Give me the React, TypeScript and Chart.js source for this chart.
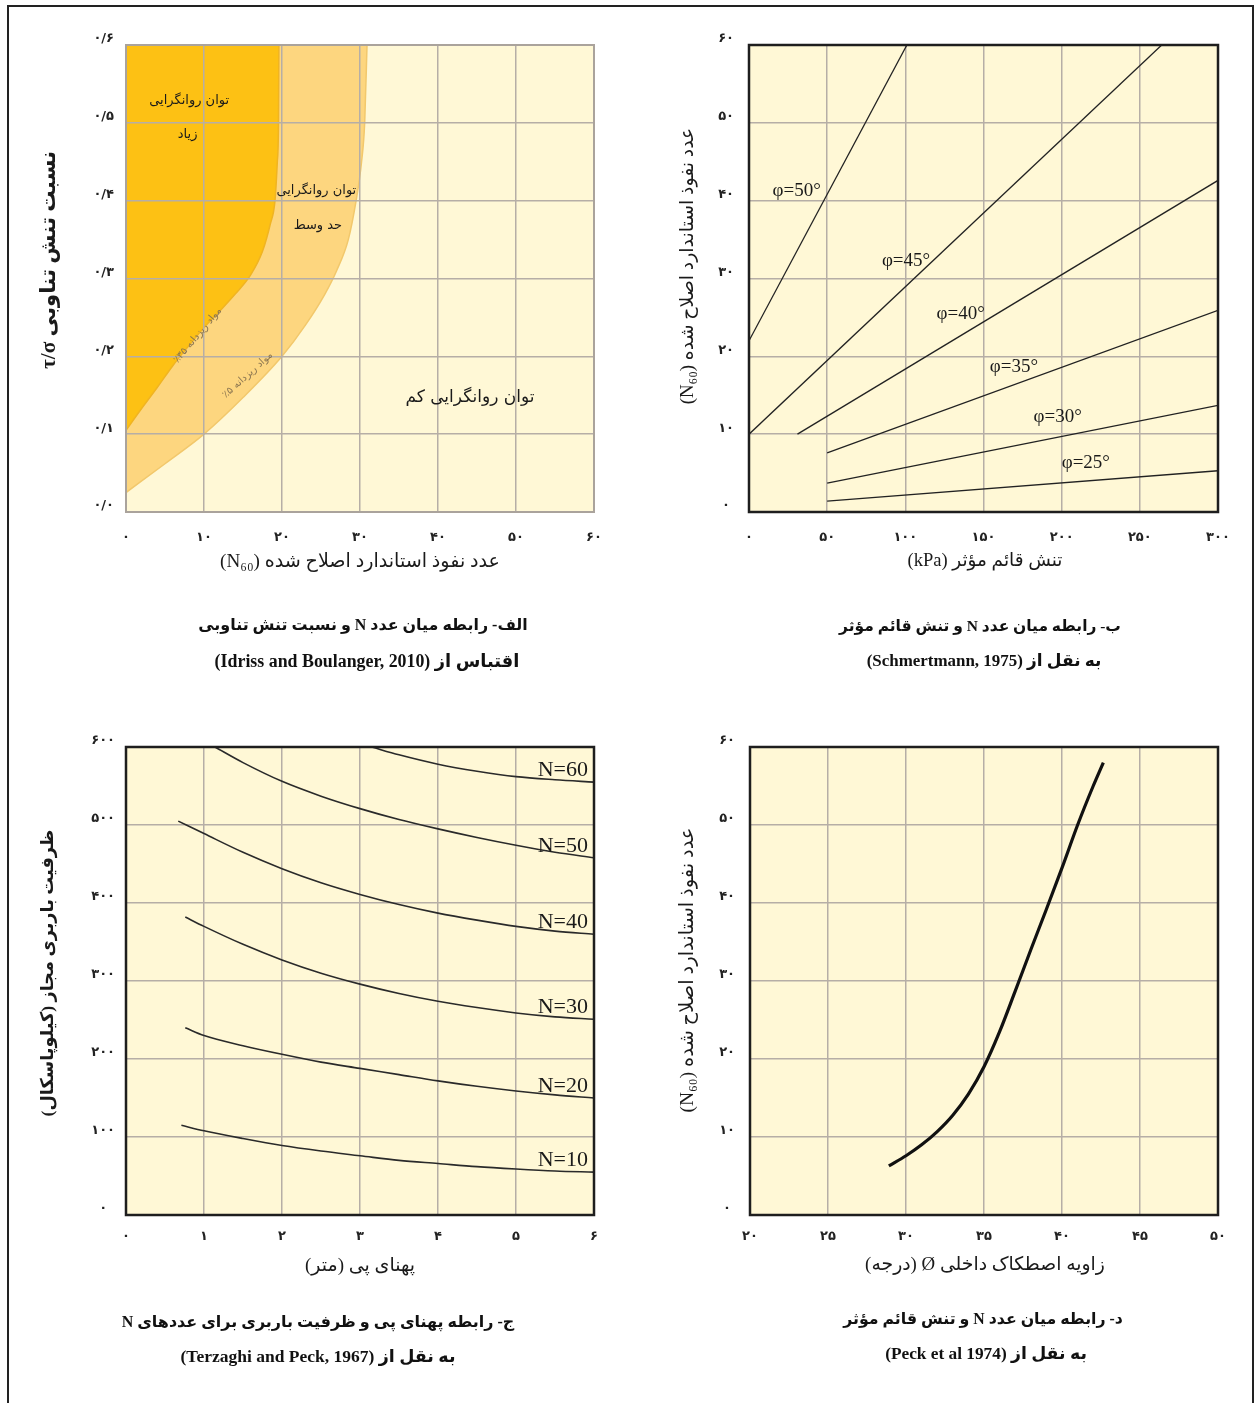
import React, { useEffect, useRef } from "react";
import { Chart, registerables } from "chart.js";

Chart.register(...registerables);

// ---------------- data ----------------
// (الف) Idriss & Boulanger 2010
const aNTicks = [0, 10, 20, 30, 40, 50, 60];
const aCsrTicks = [0, 0.1, 0.2, 0.3, 0.4, 0.5, 0.6];
const aFc35N = [0, 2, 4, 6, 8, 10, 12, 14, 16, 17.5, 18.5, 19.1, 19.4, 19.55, 19.6];
const aFc35Csr = [0.105, 0.133, 0.16, 0.188, 0.213, 0.237, 0.258, 0.28, 0.305, 0.335, 0.37, 0.4, 0.45, 0.5, 0.6];
const aFc5N = [0, 5, 10, 15, 20, 23, 25.5, 27, 28.5, 29.5, 30.2, 30.6, 30.9];
const aFc5Csr = [0.025, 0.062, 0.1, 0.147, 0.2, 0.24, 0.28, 0.31, 0.35, 0.4, 0.45, 0.5, 0.6];
const aTexts = ["توان روانگرایی", "زیاد", "توان روانگرایی", "حد وسط", "توان روانگرایی کم"];
const aTextN = [8.1, 7.9, 24.4, 24.6, 44.1];
const aTextCsr = [0.528, 0.485, 0.413, 0.368, 0.147];
const aCurveTexts = ["مواد ریزدانه ۳۵٪", "مواد ریزدانه ۵٪"];
const aCurveTextN = [9.2, 15.6];
const aCurveTextCsr = [0.227, 0.176];

// (ب) Schmertmann 1975
const bStressTicks = [0, 50, 100, 150, 200, 250, 300];
const bNTicks = [0, 10, 20, 30, 40, 50, 60];
const bPhi = [50, 45, 40, 35, 30, 25];
const bStressStart = [0, 0, 31, 50, 50, 50];
const bStressEnd = [101, 264, 300, 300, 300, 300];
const bNStart = [22, 10, 10, 7.6, 3.7, 1.4];
const bNEnd = [60, 60, 42.6, 25.9, 13.7, 5.3];
const bLabelStress = [15, 85, 120, 154, 182, 200];
const bLabelN = [41.3, 32.2, 25.5, 18.6, 12.2, 6.3];

// (ج) Terzaghi & Peck 1967
const cWidthTicks = [0, 1, 2, 3, 4, 5, 6];
const cQTicks = [0, 100, 200, 300, 400, 500, 600];
const cN = [60, 50, 40, 30, 20, 10];
const cWidth60 = [3.15, 3.5, 4, 4.5, 5, 5.5, 6];
const cQ60 = [600, 590, 578, 569, 562, 558, 555];
const cWidth50 = [1.14, 1.5, 2, 2.5, 3, 3.5, 4, 4.5, 5, 5.5, 6];
const cQ50 = [600, 580, 556, 537, 521, 507, 495, 484, 474, 465, 458];
const cWidth40 = [0.67, 1, 1.5, 2, 2.5, 3, 3.5, 4, 4.5, 5, 5.5, 6];
const cQ40 = [505, 489, 465, 444, 426, 411, 398, 387, 378, 370, 364, 360];
const cWidth30 = [0.76, 1, 1.5, 2, 2.5, 3, 3.5, 4, 4.5, 5, 5.5, 6];
const cQ30 = [382, 370, 347, 327, 310, 296, 284, 274, 266, 259, 254, 251];
const cWidth20 = [0.76, 1, 1.5, 2, 2.5, 3, 3.5, 4, 4.5, 5, 5.5, 6];
const cQ20 = [240, 230, 217, 206, 196, 188, 180, 172, 165, 159, 154, 150];
const cWidth10 = [0.71, 1, 1.5, 2, 2.5, 3, 3.5, 4, 4.5, 5, 5.5, 6];
const cQ10 = [115, 108, 98, 89, 82, 76, 70, 66, 62, 59, 56.5, 55];

// (د) Peck et al 1974
const dPhiTicks = [20, 25, 30, 35, 40, 45, 50];
const dNTicks = [0, 10, 20, 30, 40, 50, 60];
const dPhi = [28.9, 30, 31, 32, 33, 34, 35, 36, 37, 38, 39, 40, 41, 42, 42.65];
const dN = [6.3, 7.6, 9.0, 10.7, 12.8, 15.5, 19, 23.5, 28.7, 34, 39.2, 44.5, 50, 55, 58];

// ---------------- styles ----------------
const GRID = "#b6aea6";
const CREAM = "#FFF8D6";
const FA = '"DejaVu Sans", "Noto Sans", sans-serif';
const SERIF = '"Liberation Serif", "DejaVu Serif", serif';
const MIX = '"Liberation Serif", "DejaVu Sans", serif';
const TICK_FONT = { family: '"DejaVu Sans", sans-serif', size: 13, weight: "bold" as const };
const X_AXIS_H = 40;
const Y_AXIS_W = 50;

const fa = (s: string) => s.replace(/[0-9]/g, (d) => "۰۱۲۳۴۵۶۷۸۹"[+d]).replace(".", "/");
const pts = (xs: number[], ys: number[]) => xs.map((x, i) => ({ x, y: ys[i] }));

function drawText(ctx: any, text: string, x: number, y: number, o: any = {}) {
  ctx.save();
  const family = o.family ?? FA;
  const weight = o.weight ?? "normal";
  let size = o.size ?? 14;
  ctx.direction = o.dir ?? "rtl";
  if (o.width) {
    ctx.font = `${weight} 20px ${family}`;
    size = (20 * o.width) / ctx.measureText(text).width;
  }
  ctx.font = `${weight} ${size}px ${family}`;
  ctx.fillStyle = o.color ?? "#151515";
  ctx.textAlign = o.align ?? "center";
  ctx.textBaseline = o.baseline ?? "middle";
  ctx.translate(x, y);
  if (o.rot) ctx.rotate(o.rot);
  ctx.fillText(text, 0, 0);
  ctx.restore();
}

function axis(kind: "x" | "y", ticks: number[], fmt: (v: number) => string, o: any) {
  const common: any = {
    type: "linear",
    min: ticks[0],
    max: ticks[ticks.length - 1],
    afterBuildTicks: (s: any) => {
      s.ticks = ticks.map((value) => ({ value }));
    },
    grid: { color: GRID, lineWidth: 1.5, drawTicks: false, z: o.gridZ ?? -1 },
    border: { display: false },
  };
  if (kind === "x") {
    return {
      ...common,
      position: "bottom",
      afterFit: (s: any) => {
        s.height = X_AXIS_H;
        s.paddingLeft = 0; s.paddingRight = 0; s.paddingTop = 0; s.paddingBottom = 0;
      },
      ticks: { callback: (v: number) => fmt(v), font: TICK_FONT, color: "#222", padding: o.pad, maxRotation: 0, autoSkip: false },
    };
  }
  return {
    ...common,
    position: "left",
    afterFit: (s: any) => {
      s.width = Y_AXIS_W;
      s.paddingLeft = 0; s.paddingRight = 0; s.paddingTop = 0; s.paddingBottom = 0;
    },
    ticks: { callback: (v: number) => fmt(v), font: TICK_FONT, color: "#222", padding: o.pad, crossAlign: "center", labelOffset: -6, autoSkip: false },
  };
}

function panelPlugin(frameColor: string, frameWidth: number, draw: (chart: any) => void) {
  return {
    id: "panel",
    beforeDraw(chart: any) {
      const { ctx, chartArea: a } = chart;
      ctx.save();
      ctx.fillStyle = CREAM;
      ctx.fillRect(a.left, a.top, a.right - a.left, a.bottom - a.top);
      ctx.restore();
    },
    afterDraw(chart: any) {
      const { ctx, chartArea: a } = chart;
      ctx.save();
      ctx.strokeStyle = frameColor;
      ctx.lineWidth = frameWidth;
      ctx.strokeRect(a.left, a.top, a.right - a.left, a.bottom - a.top);
      ctx.restore();
      draw(chart);
    },
  };
}

type Geo = { cx: number; cy: number; W: number; H: number; L: number; T: number; R: number; B: number };

function makeChart(canvas: HTMLCanvasElement, g: Geo, datasets: any[], x: any, y: any, plugin: any) {
  return new Chart(canvas, {
    type: "line",
    data: { datasets },
    options: {
      responsive: false,
      animation: false,
      events: [],
      layout: {
        padding: {
          left: g.L - g.cx - Y_AXIS_W,
          top: g.T - g.cy,
          right: g.cx + g.W - g.R,
          bottom: g.cy + g.H - g.B - X_AXIS_H,
        },
      },
      plugins: { legend: { display: false }, tooltip: { enabled: false } },
      elements: { point: { radius: 0 } },
      scales: { x, y },
    } as any,
    plugins: [plugin],
  });
}

// page-coordinate geometry of each panel
const GA: Geo = { cx: 20, cy: 20, W: 600, H: 680, L: 126, T: 45, R: 594, B: 512 };
const GB: Geo = { cx: 640, cy: 20, W: 610, H: 680, L: 749, T: 45, R: 1218, B: 512 };
const GC: Geo = { cx: 20, cy: 720, W: 600, H: 670, L: 126, T: 747, R: 594, B: 1215 };
const GD: Geo = { cx: 640, cy: 720, W: 610, H: 670, L: 750, T: 747, R: 1218, B: 1215 };

function titles(ctx: any, g: Geo, xt: any, yt: any, cap1: any, cap2: any) {
  const px = (v: number) => v - g.cx;
  const py = (v: number) => v - g.cy;
  drawText(ctx, xt.text, px(xt.x), py(xt.y), { width: xt.w, weight: xt.weight ?? "normal", family: MIX, color: "#1a1a1a" });
  drawText(ctx, yt.text, px(yt.x), py(yt.y), { width: yt.w, weight: yt.weight ?? "normal", family: MIX, color: "#1a1a1a", rot: -Math.PI / 2 });
  drawText(ctx, cap1.text, px(cap1.x), py(cap1.y), { width: cap1.w, weight: "bold", family: MIX, color: "#111" });
  drawText(ctx, cap2.text, px(cap2.x), py(cap2.y), { width: cap2.w, weight: "bold", family: MIX, color: "#111" });
}

function buildA(canvas: HTMLCanvasElement) {
  const datasets = [
    {
      data: pts(aFc35N, aFc35Csr), fill: "end", backgroundColor: "#FDC114", borderColor: "#F0B422",
      borderWidth: 1.5, cubicInterpolationMode: "monotone", order: 1,
    },
    {
      data: pts(aFc5N, aFc5Csr), fill: "end", backgroundColor: "#FDD67F", borderColor: "#F2C86C",
      borderWidth: 1.5, cubicInterpolationMode: "monotone", order: 2,
    },
  ];
  const plugin = panelPlugin("#aaa39c", 2, (chart) => {
    const { ctx, scales } = chart;
    const sizes = [13, 13, 13, 13, 17];
    aTexts.forEach((t, i) =>
      drawText(ctx, t, scales.x.getPixelForValue(aTextN[i]), scales.y.getPixelForValue(aTextCsr[i]), { size: sizes[i], color: "#1a1a1a" })
    );
    const rots = [-50, -42];
    aCurveTexts.forEach((t, i) =>
      drawText(ctx, t, scales.x.getPixelForValue(aCurveTextN[i]), scales.y.getPixelForValue(aCurveTextCsr[i]), {
        size: 10, color: "#8a7550", rot: (rots[i] * Math.PI) / 180,
      })
    );
    titles(
      ctx, GA,
      { text: "عدد نفوذ استاندارد اصلاح شده (N₆₀)", x: 360, y: 562, w: 280 },
      { text: "نسبت تنش تناوبی τ/σ", x: 50, y: 260, w: 218, weight: "bold" },
      { text: "الف- رابطه میان عدد N و نسبت تنش تناوبی", x: 363, y: 626, w: 330 },
      { text: "اقتباس از (Idriss and Boulanger, 2010)", x: 367, y: 662, w: 305 }
    );
  });
  return makeChart(
    canvas, GA, datasets,
    axis("x", aNTicks, (v) => fa(String(v)), { pad: 18, gridZ: 1 }),
    axis("y", aCsrTicks, (v) => fa(v.toFixed(1)), { pad: 12, gridZ: 1 }),
    plugin
  );
}

function buildB(canvas: HTMLCanvasElement) {
  const datasets = bPhi.map((_, i) => ({
    data: [
      { x: bStressStart[i], y: bNStart[i] },
      { x: bStressEnd[i], y: bNEnd[i] },
    ],
    borderColor: "#222", borderWidth: 1.3, fill: false,
  }));
  const plugin = panelPlugin("#1e1e1e", 2.5, (chart) => {
    const { ctx, scales } = chart;
    bPhi.forEach((p, i) =>
      drawText(ctx, `φ=${p}°`, scales.x.getPixelForValue(bLabelStress[i]), scales.y.getPixelForValue(bLabelN[i]), {
        size: 19, family: SERIF, dir: "ltr", align: "left", color: "#1a1a1a",
      })
    );
    titles(
      ctx, GB,
      { text: "تنش قائم مؤثر (kPa)", x: 985, y: 561, w: 155 },
      { text: "عدد نفوذ استاندارد اصلاح شده (N₆₀)", x: 688, y: 266, w: 277 },
      { text: "ب- رابطه میان عدد N و تنش قائم مؤثر", x: 980, y: 627, w: 282 },
      { text: "به نقل از (Schmertmann, 1975)", x: 984, y: 662, w: 235 }
    );
  });
  return makeChart(
    canvas, GB, datasets,
    axis("x", bStressTicks, (v) => fa(String(v)), { pad: 18 }),
    axis("y", bNTicks, (v) => fa(String(v)), { pad: 15 }),
    plugin
  );
}

function buildC(canvas: HTMLCanvasElement) {
  const widths = [cWidth60, cWidth50, cWidth40, cWidth30, cWidth20, cWidth10];
  const qs = [cQ60, cQ50, cQ40, cQ30, cQ20, cQ10];
  const datasets = cN.map((_, i) => ({
    data: pts(widths[i], qs[i]),
    borderColor: "#2a2a2a", borderWidth: 1.6, fill: false, cubicInterpolationMode: "monotone",
  }));
  const plugin = panelPlugin("#1e1e1e", 2.5, (chart) => {
    const { ctx, scales, chartArea } = chart;
    cN.forEach((n, i) => {
      const q = qs[i][qs[i].length - 1];
      drawText(ctx, `N=${n}`, chartArea.right - 6, scales.y.getPixelForValue(q) - 1, {
        size: 22, family: SERIF, dir: "ltr", align: "right", baseline: "bottom", color: "#1a1a1a",
      });
    });
    titles(
      ctx, GC,
      { text: "پهنای پی (متر)", x: 360, y: 1266, w: 110 },
      { text: "ظرفیت باربری مجاز (کیلوپاسکال)", x: 48, y: 973, w: 287, weight: "bold" },
      { text: "ج- رابطه پهنای پی و ظرفیت باربری برای عددهای N", x: 318, y: 1323, w: 393 },
      { text: "به نقل از (Terzaghi and Peck, 1967)", x: 318, y: 1357, w: 275 }
    );
  });
  return makeChart(
    canvas, GC, datasets,
    axis("x", cWidthTicks, (v) => fa(String(v)), { pad: 14 }),
    axis("y", cQTicks, (v) => fa(String(v)), { pad: 11 }),
    plugin
  );
}

function buildD(canvas: HTMLCanvasElement) {
  const datasets = [
    { data: pts(dPhi, dN), borderColor: "#111", borderWidth: 3.2, fill: false, cubicInterpolationMode: "monotone" },
  ];
  const plugin = panelPlugin("#1e1e1e", 2.5, (chart) => {
    const { ctx } = chart;
    titles(
      ctx, GD,
      { text: "زاویه اصطکاک داخلی Ø (درجه)", x: 985, y: 1265, w: 240 },
      { text: "عدد نفوذ استاندارد اصلاح شده (N₆₀)", x: 688, y: 970, w: 285 },
      { text: "د- رابطه میان عدد N و تنش قائم مؤثر", x: 983, y: 1320, w: 280 },
      { text: "به نقل از (Peck et al 1974)", x: 986, y: 1355, w: 202 }
    );
  });
  return makeChart(
    canvas, GD, datasets,
    axis("x", dPhiTicks, (v) => fa(String(v)), { pad: 14 }),
    axis("y", dNTicks, (v) => fa(String(v)), { pad: 15 }),
    plugin
  );
}

function Panel({ g, build }: { g: Geo; build: (c: HTMLCanvasElement) => Chart }) {
  const ref = useRef<HTMLCanvasElement>(null);
  useEffect(() => {
    const chart = build(ref.current!);
    return () => chart.destroy();
  }, []);
  return (
    <canvas
      ref={ref}
      width={g.W}
      height={g.H}
      style={{ position: "absolute", left: g.cx, top: g.cy, width: g.W, height: g.H }}
    />
  );
}

export default function App() {
  return (
    <div style={{ position: "absolute", left: 0, top: 0, width: 1257, height: 1403, background: "#fff", overflow: "hidden" }}>
      <div
        style={{
          position: "absolute", left: 7, top: 5, width: 1243, height: 1420,
          borderTop: "2px solid #222", borderLeft: "2px solid #222", borderRight: "2px solid #222",
        }}
      />
      <Panel g={GA} build={buildA} />
      <Panel g={GB} build={buildB} />
      <Panel g={GC} build={buildC} />
      <Panel g={GD} build={buildD} />
    </div>
  );
}
